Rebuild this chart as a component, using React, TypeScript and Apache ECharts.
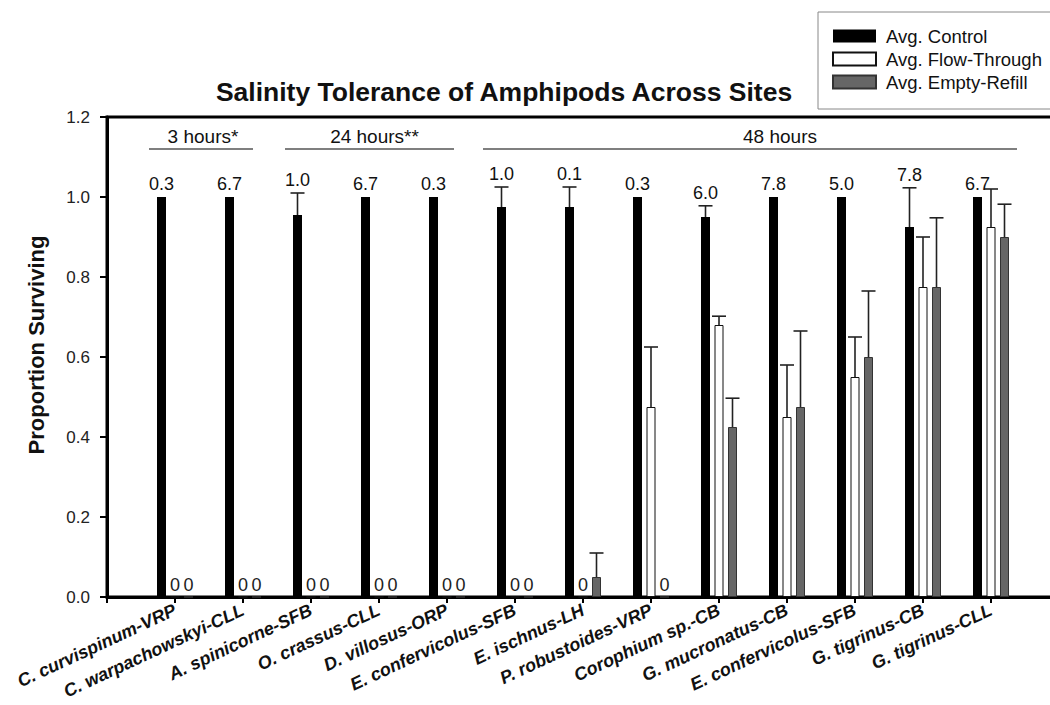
import React, { useEffect, useRef } from 'react';
import * as echarts from 'echarts';

const categories = [
  'C. curvispinum-VRP',
  'C. warpachowskyi-CLL',
  'A. spinicorne-SFB',
  'O. crassus-CLL',
  'D. villosus-ORP',
  'E. confervicolus-SFB',
  'E. ischnus-LH',
  'P. robustoides-VRP',
  'Corophium sp.-CB',
  'G. mucronatus-CB',
  'E. confervicolus-SFB ',
  'G. tigrinus-CB',
  'G. tigrinus-CLL',
];

const controlMean = [1.0, 1.0, 0.955, 1.0, 1.0, 0.975, 0.975, 1.0, 0.95, 1.0, 1.0, 0.925, 1.0];
const controlErr = [0, 0, 0.055, 0, 0, 0.05, 0.05, 0, 0.028, 0, 0, 0.098, 0];
const flowMean = [0, 0, 0, 0, 0, 0, 0, 0.475, 0.68, 0.45, 0.55, 0.775, 0.925];
const flowErr = [0, 0, 0, 0, 0, 0, 0, 0.15, 0.022, 0.13, 0.1, 0.125, 0.095];
const refillMean = [0, 0, 0, 0, 0, 0, 0.05, 0, 0.425, 0.475, 0.6, 0.775, 0.9];
const refillErr = [0, 0, 0, 0, 0, 0, 0.06, 0, 0.072, 0.19, 0.165, 0.173, 0.082];
const controlNotes = ['0.3', '6.7', '1.0', '6.7', '0.3', '1.0', '0.1', '0.3', '6.0', '7.8', '5.0', '7.8', '6.7'];

const seriesNames = ['Avg. Control', 'Avg. Flow-Through', 'Avg. Empty-Refill'];
const yMin = 0;
const yMax = 1.2;
const yInterval = 0.2;

// exposure-time brackets: label, first category, last category
const periodLabels = ['3 hours*', '24 hours**', '48 hours'];
const periodFrom = [0, 2, 5];
const periodTo = [1, 4, 12];

const FONT = '"Liberation Sans", Arial, sans-serif';
const W = 1050;
const H = 705;
const CHART_W = 1059;
const GRID_LEFT = 107;
const GRID_TOP = 117;
const GRID_BOTTOM = 108;
const GRID_RIGHT = 0;
const BAR_W = 9;
const BAR_STEP = 13.5;
const CAP = 7;

export default function App() {
  const ref = useRef<HTMLDivElement>(null);

  useEffect(() => {
    if (!ref.current) return;
    const chart = echarts.init(ref.current, undefined, { renderer: 'svg' });

    const axisCats = ['', ...categories, ''];
    const pad = (arr: number[]) => ['-', ...arr, '-'];
    const n = axisCats.length;
    const step = (CHART_W - GRID_LEFT - GRID_RIGHT) / (n - 1);
    const catX = (i: number) => GRID_LEFT + (i + 1) * step;

    const errData: number[][] = [];
    [controlMean, flowMean, refillMean].forEach((means, s) => {
      const errs = [controlErr, flowErr, refillErr][s];
      means.forEach((m, i) => {
        if (errs[i] > 0) errData.push([i + 1, m, errs[i], s]);
      });
    });
    const noteData = controlMean.map((m, i) => [i + 1, m + controlErr[i]]);

    const zeroLabel = {
      show: true,
      position: 'top',
      distance: 3,
      fontSize: 18,
      fontFamily: FONT,
      color: '#222',
      formatter: (p: any) => (p.value === 0 ? '0' : ''),
    };

    // bracket annotations (label + line): [left ext, right ext, text shift]
    const bracketOffsets = [
      [-26, 10, 2],
      [-26, 7, 5],
      [-32, 26, 30],
    ];
    const graphics: any[] = [];
    periodLabels.forEach((lab, k) => {
      const x1 = catX(periodFrom[k]) + bracketOffsets[k][0];
      const x2 = catX(periodTo[k]) + bracketOffsets[k][1];
      graphics.push({
        type: 'line',
        shape: { x1, y1: 149, x2, y2: 149 },
        style: { stroke: '#555', lineWidth: 1.5 },
      });
      graphics.push({
        type: 'text',
        x: (x1 + x2) / 2 + bracketOffsets[k][2],
        y: 136,
        style: {
          text: lab,
          fontSize: 19,
          fontFamily: FONT,
          fill: '#111',
          textAlign: 'center',
          textVerticalAlign: 'middle',
        },
      });
    });
    graphics.push({
      type: 'text',
      x: 36,
      y: 345,
      rotation: Math.PI / 2,
      style: {
        text: 'Proportion Surviving',
        fontSize: 22,
        fontWeight: 'bold',
        fontFamily: FONT,
        fill: '#111',
        textAlign: 'center',
        textVerticalAlign: 'middle',
      },
    });

    chart.setOption({
      animation: false,
      backgroundColor: '#fff',
      title: {
        text: 'Salinity Tolerance of Amphipods Across Sites',
        left: 499,
        top: 73,
        textAlign: 'center',
        textStyle: { fontSize: 26.5, fontWeight: 'bold', fontFamily: FONT, color: '#111' },
      },
      legend: {
        data: seriesNames,
        orient: 'vertical',
        left: 818,
        top: 12,
        padding: [14, 60, 17, 14],
        itemWidth: 43,
        itemHeight: 13,
        itemGap: 3,
        borderColor: '#888',
        borderWidth: 1,
        icon: 'rect',
        textStyle: {
          fontSize: 18.5,
          fontFamily: FONT,
          color: '#111',
          lineHeight: 20,
          padding: [0, 0, 0, 5],
        },
      },
      grid: {
        left: GRID_LEFT,
        top: GRID_TOP,
        bottom: GRID_BOTTOM,
        right: GRID_RIGHT,
        containLabel: false,
        outerBoundsMode: 'none',
        show: true,
        borderColor: '#000',
        borderWidth: 3,
        backgroundColor: 'transparent',
      },
      xAxis: {
        type: 'category',
        data: axisCats,
        boundaryGap: false,
        axisLine: { lineStyle: { color: '#000', width: 3 } },
        axisTick: { show: true, length: 6, interval: 0, lineStyle: { color: '#000', width: 2 } },
        axisLabel: {
          interval: 0,
          rotate: 25,
          margin: 12,
          fontSize: 18,
          fontWeight: 'bold',
          fontStyle: 'italic',
          fontFamily: FONT,
          color: '#111',
          hideOverlap: false,
          formatter: (v: string) => v.trim(),
        },
        splitLine: { show: false },
      },
      yAxis: {
        type: 'value',
        min: yMin,
        max: yMax,
        interval: yInterval,
        axisLine: { show: true, lineStyle: { color: '#000', width: 3 } },
        axisTick: { show: true, length: 7, lineStyle: { color: '#000', width: 2 } },
        axisLabel: {
          margin: 17,
          fontSize: 17,
          fontFamily: FONT,
          color: '#222',
          formatter: (v: number) => v.toFixed(1),
        },
        splitLine: { show: false },
      },
      series: [
        {
          name: seriesNames[0],
          type: 'bar',
          data: pad(controlMean),
          barWidth: BAR_W,
          barGap: '50%',
          itemStyle: { color: '#000' },
        },
        {
          name: seriesNames[1],
          type: 'bar',
          data: pad(flowMean),
          barWidth: BAR_W,
          barGap: '50%',
          itemStyle: { color: '#fff', borderColor: '#111', borderWidth: 1 },
          label: zeroLabel,
        },
        {
          name: seriesNames[2],
          type: 'bar',
          data: pad(refillMean),
          barWidth: BAR_W,
          barGap: '50%',
          itemStyle: { color: '#666', borderColor: '#333', borderWidth: 1 },
          label: zeroLabel,
        },
        {
          name: 'errors',
          type: 'custom',
          data: errData,
          z: 5,
          renderItem: (params: any, api: any) => {
            const x = api.value(0);
            const m = api.value(1);
            const e = api.value(2);
            const slot = api.value(3);
            const base = api.coord([x, m]);
            const top = api.coord([x, m + e]);
            const cx = base[0] + (slot - 1) * BAR_STEP;
            const style = { stroke: '#222', lineWidth: 1.6 };
            return {
              type: 'group',
              children: [
                { type: 'line', shape: { x1: cx, y1: base[1], x2: cx, y2: top[1] }, style },
                { type: 'line', shape: { x1: cx - CAP, y1: top[1], x2: cx + CAP, y2: top[1] }, style },
              ],
            };
          },
        },
        {
          name: 'notes',
          type: 'custom',
          data: noteData,
          z: 6,
          renderItem: (params: any, api: any) => {
            const p = api.coord([api.value(0), api.value(1)]);
            return {
              type: 'text',
              x: p[0] - BAR_STEP,
              y: p[1] - 4,
              style: {
                text: controlNotes[params.dataIndex],
                fontSize: 18,
                fontFamily: FONT,
                fill: '#111',
                textAlign: 'center',
                textVerticalAlign: 'bottom',
              },
            };
          },
        },
      ],
      graphic: graphics,
    });

    return () => chart.dispose();
  }, []);

  return (
    <div style={{ position: 'absolute', left: 0, top: 0, width: W, height: H, overflow: 'hidden' }}>
      <div ref={ref} style={{ width: CHART_W, height: H }} />
    </div>
  );
}
